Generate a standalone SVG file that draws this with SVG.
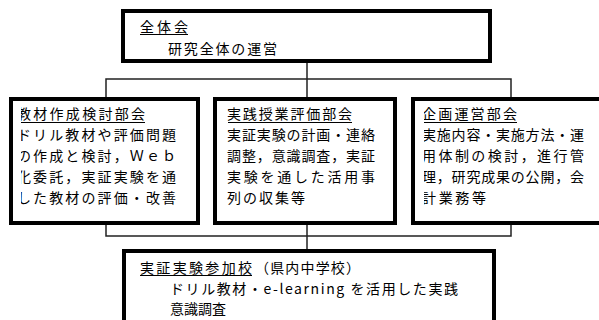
<svg xmlns="http://www.w3.org/2000/svg" width="599" height="320" viewBox="0 0 599 320">
<style>
.box{fill:#fff;stroke:#000;stroke-width:4}
.t{font-family:"Noto Sans CJK JP","Noto Sans",sans-serif;font-size:14px;fill:#000}
.u{stroke:#000;stroke-width:1}
.c{stroke:#222;stroke-width:1.5;fill:none}
</style>
<defs>
<clipPath id="clip1"><rect x="21" y="100" width="175" height="122"/></clipPath>
<clipPath id="clip3"><rect x="424" y="100" width="175" height="122"/></clipPath>
</defs>
<rect width="599" height="320" fill="#fff"/>
<g id="connectors">
<path class="c" d="M307,63 V79 M106,97 V79 H511 V97 M307,79 V97"/>
<path class="c" d="M106,225 V236 H511 V225 M307,225 V249"/>
</g>
<g id="zentaikai">
<rect class="box" x="123" y="11" width="367" height="50"/>
<text class="t" x="140" y="32" textLength="48" lengthAdjust="spacing">全体会</text>
<line class="u" x1="140" y1="34.5" x2="188" y2="34.5"/>
<text class="t" x="168" y="54" textLength="109" lengthAdjust="spacing">研究全体の運営</text>
</g>
<g id="kyozai">
<rect class="box" x="11" y="99" width="187" height="124"/>
<g clip-path="url(#clip1)">
<text class="t" x="17" y="119" textLength="128" lengthAdjust="spacing">教材作成検討部会</text>
<line class="u" x1="21" y1="122.5" x2="145" y2="122.5"/>
<text class="t" x="17" y="140" textLength="159" lengthAdjust="spacing">ドリル教材や評価問題</text>
<text class="t" x="17" y="161" textLength="159" lengthAdjust="spacing">の作成と検討，Ｗｅｂ</text>
<text class="t" x="17" y="182" textLength="159" lengthAdjust="spacing">化委託，実証実験を通</text>
<text class="t" x="17" y="203" textLength="159" lengthAdjust="spacing">した教材の評価・改善</text>
</g>
</g>
<g id="jissen">
<rect class="box" x="215" y="99" width="180" height="124"/>
<text class="t" x="227" y="119" textLength="125" lengthAdjust="spacing">実践授業評価部会</text>
<line class="u" x1="228" y1="122.5" x2="352" y2="122.5"/>
<text class="t" x="227" y="140" textLength="148" lengthAdjust="spacing">実証実験の計画・連絡</text>
<text class="t" x="227" y="161" textLength="148" lengthAdjust="spacing">調整，意識調査，実証</text>
<text class="t" x="227" y="182" textLength="148" lengthAdjust="spacing">実験を通した活用事</text>
<text class="t" x="227" y="203" textLength="78" lengthAdjust="spacing">列の収集等</text>
</g>
<g id="kikaku">
<rect class="box" x="413" y="99" width="200" height="124"/>
<g clip-path="url(#clip3)">
<text class="t" x="422" y="119" textLength="95" lengthAdjust="spacing">企画運営部会</text>
<line class="u" x1="424" y1="122.5" x2="517" y2="122.5"/>
<text class="t" x="422" y="140" textLength="162" lengthAdjust="spacing">実施内容・実施方法・運</text>
<text class="t" x="422" y="161" textLength="162" lengthAdjust="spacing">用体制の検討，進行管</text>
<text class="t" x="422" y="182" textLength="162" lengthAdjust="spacing">理，研究成果の公開，会</text>
<text class="t" x="422" y="203" textLength="64" lengthAdjust="spacing">計業務等</text>
</g>
</g>
<g id="sankako">
<rect class="box" x="124" y="251" width="370" height="80"/>
<text class="t" x="140" y="273" textLength="112" lengthAdjust="spacing">実証実験参加校</text>
<line class="u" x1="140" y1="275.5" x2="252" y2="275.5"/>
<text class="t" x="255" y="273" textLength="105" lengthAdjust="spacing">（県内中学校）</text>
<text class="t" x="170" y="294" textLength="288" lengthAdjust="spacing">ドリル教材・e-learning を活用した実践</text>
<text class="t" x="170" y="314" textLength="56" lengthAdjust="spacing">意識調査</text>
</g>
</svg>
